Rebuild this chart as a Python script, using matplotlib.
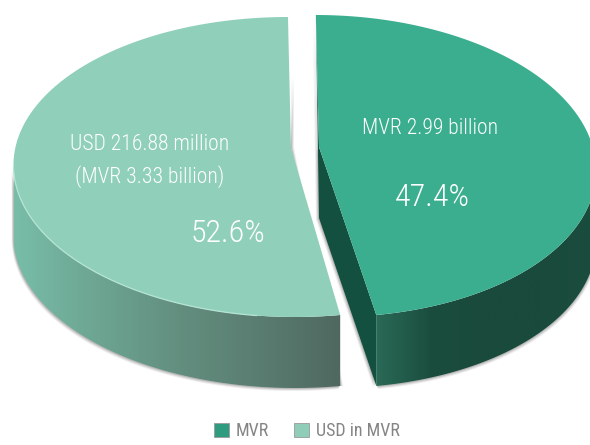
import numpy as np
import matplotlib
matplotlib.use("Agg")
import matplotlib.pyplot as plt
from matplotlib import font_manager as fm
from matplotlib.patches import Polygon, Patch
from matplotlib.colors import LinearSegmentedColormap

shares = [47.4, 52.6]
series_names = ["MVR", "USD in MVR"]
amount_labels = ["MVR 2.99 billion", "USD 216.88 million", "(MVR 3.33 billion)"]
share_labels = ["47.4%", "52.6%"]

installed = {f.name for f in fm.fontManager.ttflist}
narrow = next((n for n in ('Roboto Condensed', 'Open Sans Condensed', 'Noto Sans Condensed') if n in installed), None)
plt.rcParams['font.family'] = [narrow or 'Lato', 'DejaVu Sans']
scale = 1.1 if narrow else 1.0
fig = plt.figure(figsize=(5.9, 4.45), dpi=100)
ax = fig.add_axes([0, 0, 1, 1])

DEPTH = 71
TOP_R, INNER, TOP_L = "#3bae8f", "#14503f", "#90d0bb"
GEOM_R = dict(cx=324, cy=166, rx=272, ry=151, skew=0.054, apex=(319, 147))
GEOM_L = dict(cx=291.5, cy=167, rx=278, ry=150, skew=0.0235, apex=(291, 148))


def rim(g, t0, t1, dy=0, n=240):
    t = np.radians(np.linspace(t0, t1, n))
    y = g['cy'] + g['ry'] * -np.sin(t)
    x = g['cx'] + g['rx'] * np.cos(t) + g['skew'] * (y - g['cy'])
    return np.column_stack([x, y + dy])


def gradient_fill(poly, stops):
    patch = Polygon(poly, closed=True, fc="none", ec="none")
    ax.add_patch(patch)
    cmap = LinearSegmentedColormap.from_list("g", stops)
    x0, x1 = poly[:, 0].min(), poly[:, 0].max()
    grad = np.linspace(0, 1, 256)[None, :]
    im = ax.imshow(grad, extent=[x0, x1, poly[:, 1].max(), poly[:, 1].min()],
                   cmap=cmap, aspect="auto", zorder=2)
    im.set_clip_path(patch)


split = 90 - shares[0] / sum(shares) * 360
top_r = rim(GEOM_R, 90, split)
wall_r = np.vstack([rim(GEOM_R, 0, split), rim(GEOM_R, split, 0, DEPTH)])
apex_r = np.array(GEOM_R['apex'])
inner_r = np.array([top_r[0], apex_r + (0, DEPTH), top_r[-1] + (0, DEPTH), top_r[-1], apex_r])
top_l = rim(GEOM_L, 90, split + 360)
wall_l = np.vstack([rim(GEOM_L, 180, split + 360), rim(GEOM_L, split + 360, 180, DEPTH)])
apex_l = np.array(GEOM_L['apex'])

for off, a in ((3.0, .10), (2.0, .16), (1.0, .22)):
    ax.add_patch(Polygon(wall_l + (-off * .6, off), fc="#555555", ec="none", alpha=a, zorder=1))
    ax.add_patch(Polygon(wall_r + (off * .6, off), fc="#555555", ec="none", alpha=a, zorder=1))
    ax.add_patch(Polygon(inner_r + (-off, off * .5), fc="#555555", ec="none", alpha=a, zorder=1))
    ax.add_patch(Polygon(np.array([apex_l + (off, -72), apex_l + (off, 0),
                                   top_l[-1] + (off, DEPTH), top_l[-1] + (0, DEPTH), apex_l]),
                         fc="#555555", ec="none", alpha=a, zorder=1))

gradient_fill(wall_l, ["#78bda8", "#6da592", "#638f7f", "#5a7d71", "#4f6860"])
gradient_fill(wall_r, ["#2a6a56", "#1b4d3f", "#194a3c", "#194a3c", "#1b4d3f"])
ax.add_patch(Polygon(inner_r, fc=INNER, ec="none", zorder=3))

ax.add_patch(Polygon(np.vstack([top_r, apex_r]), fc=TOP_R, ec="none", zorder=4))
ax.add_patch(Polygon(np.vstack([top_l, apex_l]), fc=TOP_L, ec="none", zorder=4))
light = rim(GEOM_L, 180, 262)
ax.plot(light[:, 0], light[:, 1], color="#b6e4d4", lw=0.9, zorder=5)

small, big = 14.2 * scale, 21 * scale
common = dict(color="white", ha="center", va="center", zorder=6, fontweight="light")
ax.text(150, 145, amount_labels[1], fontsize=small, **common)
ax.text(150, 177, amount_labels[2], fontsize=small, **common)
ax.text(228, 234, share_labels[1], fontsize=big, **common)
ax.text(430, 129, amount_labels[0], fontsize=small, **common)
ax.text(432, 198, share_labels[0], fontsize=big, **common)

handles = [Patch(fc="#2f9c80", ec="#9a9a9a", lw=0.6), Patch(fc="#8fcdb9", ec="#9a9a9a", lw=0.6)]
ax.legend(handles, series_names, loc="center", bbox_to_anchor=(307 / 590, 1 - 431.5 / 445),
          ncol=2, frameon=False, fontsize=11.8 * scale, labelcolor="#858585", handlelength=0.8,
          handleheight=0.8, handletextpad=0.4, columnspacing=1.4, borderpad=0)

ax.set_xlim(0, 590)
ax.set_ylim(445, 0)
ax.axis("off")
fig.savefig("out.png", dpi=100, facecolor="white")
